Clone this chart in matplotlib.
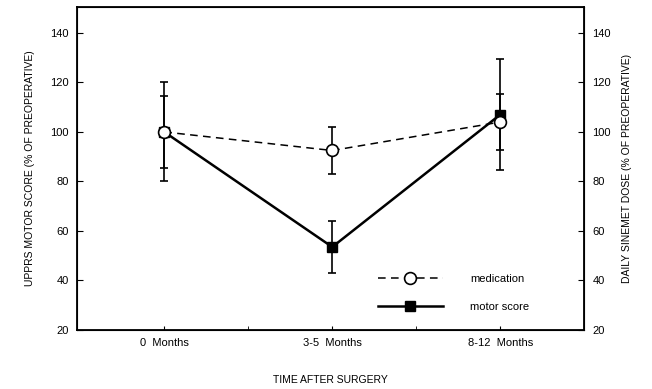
import matplotlib.pyplot as plt
from matplotlib.lines import Line2D

plt.rcParams['font.family'] = ['Liberation Sans', 'DejaVu Sans']

periods = ['0  Months', '3-5  Months', '8-12  Months']
period_x = [1, 3, 5]

medication = [100, 92.5, 104]
medication_err = [14.5, 9.5, 11.5]
motor_score = [100, 53.5, 107]
motor_err = [20, 10.5, 22.5]

fig = plt.figure(figsize=(6.52, 3.89), dpi=100)
ax = fig.add_axes([0.118, 0.152, 0.778, 0.830])

dash = (0, (5, 3.5))
ax.errorbar(period_x, motor_score, yerr=motor_err, color='black', lw=1.8,
            marker='s', markersize=7, capsize=3, elinewidth=1.2, capthick=1.2,
            zorder=3)
ax.errorbar(period_x, medication, yerr=medication_err, color='black', lw=1.1,
            ls=dash, marker='o', markersize=8.5, markerfacecolor='white',
            markeredgewidth=1.2, capsize=3, elinewidth=1.2, capthick=1.2,
            zorder=4)

ax.set_xlim(-0.04, 6.0)
ax.set_ylim(20, 150.5)
ax.set_yticks([20, 40, 60, 80, 100, 120, 140])
ax.set_xticks(period_x)
ax.set_xticklabels(periods, fontsize=8)
ax.set_xticks([2, 4], minor=True)
ax.tick_params(axis='x', which='both', direction='in', length=3, pad=6)
ax.tick_params(axis='y', direction='in', length=4, labelsize=8, pad=6)
for s in ax.spines.values():
    s.set_linewidth(1.3)

ax.set_ylabel('UPPRS MOTOR SCORE (% OF PREOPERATIVE)', fontsize=7.5, labelpad=11)
ax.set_xlabel('TIME AFTER SURGERY', fontsize=7.5, labelpad=19)

ax2 = ax.twinx()
ax2.set_ylim(20, 150.5)
ax2.set_yticks([20, 40, 60, 80, 100, 120, 140])
ax2.tick_params(axis='y', direction='in', length=4, labelsize=8, pad=6)
ax2.set_ylabel('DAILY SINEMET DOSE (% OF PREOPERATIVE)', fontsize=7.5, labelpad=8)

handles = [
    Line2D([], [], color='black', lw=1.1, ls=dash, marker='o', markersize=8.5,
           markerfacecolor='white', markeredgewidth=1.2),
    Line2D([], [], color='black', lw=1.8, marker='s', markersize=7),
]
ax.legend(handles, ['medication', 'motor score'], loc='center left',
          bbox_to_anchor=(0.594, 0.115), frameon=False, fontsize=8,
          handlelength=5.8, handletextpad=2.5, labelspacing=1.6,
          borderpad=0, borderaxespad=0)

fig.savefig('out.png', dpi=100)
